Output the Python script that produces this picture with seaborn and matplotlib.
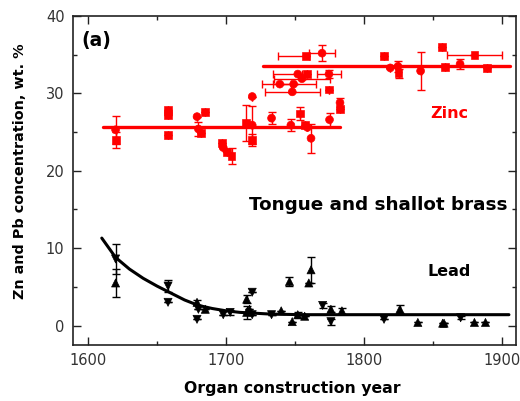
import numpy as np
import pandas as pd
import matplotlib
matplotlib.use("Agg")
import matplotlib.pyplot as plt
import seaborn as sns
from matplotlib.ticker import MultipleLocator

# ---------------- data ----------------
zn_year = [1620, 1620, 1658, 1658, 1658, 1679, 1685, 1680, 1682, 1697, 1698, 1701, 1704,
           1714.5, 1719, 1719, 1719, 1733, 1747, 1753.6, 1757, 1759, 1761.6, 1775, 1782.6, 1782.6,
           1758, 1769.6, 1752, 1758.7, 1774.6, 1755, 1739, 1749, 1748, 1774.6,
           1814.5, 1819, 1824.6, 1825, 1841, 1856.5, 1858.7, 1869.6, 1880, 1889]
zn_value = [25.3, 24.0, 27.9, 27.2, 24.6, 27.0, 27.6, 25.4, 24.9, 23.6, 23.0, 22.4, 21.9,
            26.2, 25.9, 24.0, 29.6, 26.8, 25.9, 27.4, 25.9, 25.6, 24.2, 26.6, 28.8, 28.0,
            34.8, 35.2, 32.5, 32.5, 32.5, 31.9, 31.2, 31.2, 30.2, 30.5,
            34.8, 33.3, 33.5, 32.6, 32.9, 36.0, 33.4, 33.8, 35.0, 33.3]
zn_xerr_lo = [0, 0, 0, 0, 0, 0, 0, 0, 0, 0, 0, 0, 0,
              0, 0, 0, 0, 0, 0, 0, 0, 0, 0, 0, 0, 0,
              20, 9.5, 18, 0, 9, 20, 13, 15, 20, 0,
              0, 0, 0, 0, 0, 0, 0, 0, 20, 0]
zn_xerr_hi = [0, 0, 0, 0, 0, 0, 0, 0, 0, 0, 0, 0, 0,
              0, 0, 0, 0, 0, 0, 0, 0, 0, 0, 0, 0, 0,
              2, 9.5, 3, 0, 9, 20, 8, 16, 20, 0,
              0, 0, 0, 0, 0, 0, 0, 0, 20, 0]
zn_yerr = [1.8, 1.0, 0, 0, 0, 0, 0, 0.9, 0, 0, 0, 0, 1.0,
           2.3, 2.5, 0.8, 0, 0.8, 0.8, 0.8, 0, 0, 1.9, 0.9, 0.6, 0,
           0, 1.0, 0, 0, 0.5, 0, 0, 0, 0, 0,
           0, 0, 0.7, 0.6, 2.4, 0, 0, 0.6, 0, 0]
zn_kind = ["o", "s", "s", "s", "s", "o", "s", "o", "s", "s", "o", "s", "s",
           "s", "o", "s", "o", "o", "o", "s", "s", "o", "o", "o", "o", "s",
           "s", "o", "o", "s", "o", "o", "o", "o", "o", "s",
           "s", "o", "o", "s", "o", "s", "s", "o", "s", "s"]

pb_year = [1620, 1620, 1658, 1658, 1679, 1680, 1679, 1685, 1698, 1703, 1715, 1715,
           1719, 1717, 1719, 1733, 1740, 1746, 1748, 1752, 1757, 1761.6, 1760,
           1770, 1776, 1776, 1784, 1814.5, 1826, 1839, 1857, 1858, 1870, 1880, 1888]
pb_value = [8.6, 5.5, 5.1, 3.0, 3.0, 2.1, 0.8, 2.1, 1.4, 1.7, 1.7, 3.4,
            4.3, 2.1, 1.4, 1.4, 1.9, 5.7, 0.5, 1.4, 1.2, 7.2, 5.5,
            2.6, 2.1, 0.5, 1.9, 0.8, 2.1, 0.4, 0.3, 0.3, 1.0, 0.4, 0.4]
pb_yerr = [2.0, 1.8, 0.8, 0, 0.3, 0, 0, 0, 0, 0.3, 0.8, 0.5,
           0, 0, 0, 0, 0, 0.6, 0, 0.4, 0, 1.7, 0,
           0.3, 0.4, 0.4, 0.4, 0, 0.5, 0, 0, 0, 0.2, 0, 0]
pb_kind = ["v", "^", "v", "v", "^", "v", "v", "^", "v", "v", "^", "^",
           "v", "^", "v", "v", "^", "^", "^", "^", "^", "^", "^",
           "v", "^", "v", "^", "v", "^", "^", "^", "^", "v", "^", "^"]

# fitted lines
zn_fit1_year = [1611, 1782.6]
zn_fit1_value = [25.7, 25.7]
zn_fit2_year = [1727, 1906]
zn_fit2_value = [33.6, 33.6]
pb_fit_year = [1610, 1620, 1630, 1640, 1650, 1660, 1670, 1680, 1690, 1700,
               1710, 1720, 1730, 1740, 1750, 1760, 1780, 1905]
pb_fit_value = [11.3, 8.8, 7.3, 6.1, 5.1, 4.2, 3.3, 2.6, 2.2, 1.9,
                1.7, 1.6, 1.5, 1.45, 1.42, 1.4, 1.4, 1.4]

# ---------------- plot ----------------
sns.set_style("ticks")
plt.rcParams["font.family"] = ["DejaVu Sans"]

fig = plt.figure(figsize=(5.2, 4.01), dpi=100)
ax = fig.add_axes([0.140, 0.140, 0.852, 0.820])

RED = "#ff0000"
zn = pd.DataFrame({"year": zn_year, "value": zn_value, "kind": zn_kind})
pb = pd.DataFrame({"year": pb_year, "value": pb_value, "kind": pb_kind})

# error bars
ax.errorbar(zn_year, zn_value,
            xerr=[zn_xerr_lo, zn_xerr_hi], yerr=zn_yerr,
            fmt="none", ecolor=RED, elinewidth=1.0, capsize=3, capthick=1.0, zorder=2)
ax.errorbar(pb_year, pb_value, yerr=pb_yerr,
            fmt="none", ecolor="black", elinewidth=1.0, capsize=3, capthick=1.0, zorder=2)

# fit lines
sns.lineplot(x=zn_fit1_year, y=zn_fit1_value, color=RED, lw=2.4, ax=ax, zorder=3)
sns.lineplot(x=zn_fit2_year, y=zn_fit2_value, color=RED, lw=2.4, ax=ax, zorder=3)
sns.lineplot(x=pb_fit_year, y=pb_fit_value, color="black", lw=2.2, ax=ax, zorder=3)

# points
sns.scatterplot(data=zn, x="year", y="value", style="kind",
                markers={"o": "o", "s": "s"}, color=RED, edgecolor=RED,
                s=32, ax=ax, legend=False, zorder=4)
sns.scatterplot(data=pb, x="year", y="value", style="kind",
                markers={"^": "^", "v": "v"}, color="black", edgecolor="black",
                s=34, ax=ax, legend=False, zorder=4)

ax.set_xlim(1589, 1910)
ax.set_ylim(-2.5, 40)
ax.xaxis.set_major_locator(MultipleLocator(100))
ax.xaxis.set_minor_locator(MultipleLocator(50))
ax.yaxis.set_major_locator(MultipleLocator(10))
ax.yaxis.set_minor_locator(MultipleLocator(5))
ax.tick_params(which="both", direction="in", top=True, right=True,
               labelsize=10.5, colors="#222222", labelcolor="#333333", width=1.0)
ax.tick_params(which="major", length=5.5, pad=6)
ax.tick_params(which="minor", length=3)
for sp in ax.spines.values():
    sp.set_linewidth(1.2)
    sp.set_color("#222222")

ax.set_xlabel("Organ construction year", fontsize=11.3, fontweight="bold", color="black")
ax.xaxis.set_label_coords(0.495, -0.11)
ax.set_ylabel("Zn and Pb concentration, wt. %", fontsize=10.4, fontweight="bold", color="black")
ax.yaxis.set_label_coords(-0.104, 0.529)

ax.text(0.02, 0.955, "(a)", transform=ax.transAxes, fontsize=13.5, fontweight="bold",
        ha="left", va="top", color="black")
ax.text(1862, 27.4, "Zinc", color=RED, fontsize=11.5, fontweight="bold", ha="center", va="center")
ax.text(1810, 15.6, "Tongue and shallot brass", color="black", fontsize=13.2,
        fontweight="bold", ha="center", va="center")
ax.text(1862, 7.0, "Lead", color="black", fontsize=11.5, fontweight="bold",
        ha="center", va="center")

fig.savefig("out.png", dpi=100)
